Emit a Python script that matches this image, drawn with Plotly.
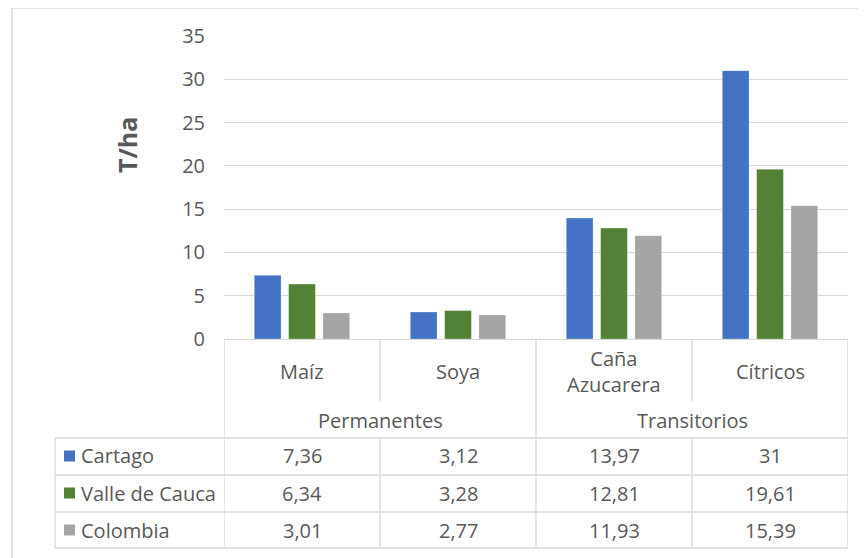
import plotly.graph_objects as go

categories = ["Maíz", "Soya", "Caña<br>Azucarera", "Cítricos"]
groups = ["Permanentes", "Transitorios"]
series_names = ["Cartago", "Valle de Cauca", "Colombia"]
cartago = [7.36, 3.12, 13.97, 31]
valle = [6.34, 3.28, 12.81, 19.61]
colombia = [3.01, 2.77, 11.93, 15.39]
y_ticks = [0, 5, 10, 15, 20, 25, 30, 35]

series_values = [cartago, valle, colombia]
colors = ["#4472C4", "#538135", "#A5A5A5"]
TXT = "#595959"
LINE = "#D9D9D9"
FONT = "Open Sans"
FS = 20

OFF = 8  # page body margin offset
W, H = 866, 558
L, T = 224 - OFF, 36 - OFF
R = W - (848 - OFF)
B = H - (339 - OFF)
PW, PH = W - L - R, H - T - B


def px(x):
    return (x - OFF - L) / PW


def py(y):
    return (H - B - (y - OFF)) / PH


xs = list(range(len(categories)))
fig = go.Figure()
for name, vals, c in zip(series_names, series_values, colors):
    fig.add_trace(go.Bar(x=xs, y=vals, name=name,
                         marker=dict(color=c, line=dict(width=0.8, color="rgba(255,255,255,0.35)")),
                         showlegend=False))

shapes = []
ann = []


def hline(y, x0, x1):
    shapes.append(dict(type="line", xref="paper", yref="paper", x0=px(x0), x1=px(x1), y0=py(y), y1=py(y),
                       line=dict(color=LINE, width=1.3)))


def vline_x(xi, y0, y1):
    shapes.append(dict(type="line", xref="x", yref="paper", x0=xi, x1=xi, y0=py(y0), y1=py(y1),
                       line=dict(color=LINE, width=1.3)))


# outer chart border
shapes.append(dict(type="rect", xref="paper", yref="paper", x0=px(12), x1=px(890), y0=py(8), y1=py(590),
                   line=dict(color=LINE, width=1.5), fillcolor="rgba(0,0,0,0)"))

row_y = [438, 475, 512, 548]
for y in row_y:
    hline(y, 55, 848)
shapes.append(dict(type="line", xref="paper", yref="paper", x0=px(55), x1=px(55), y0=py(438), y1=py(548),
                   line=dict(color=LINE, width=1.3)))
n = len(categories)
vline_x(-0.5, 339, 548)
vline_x(n - 0.5, 339, 548)
vline_x(1.5, 339, 548)
for b in [0.5, 2.5]:
    vline_x(b, 339, 402)
    vline_x(b, 438, 548)

for i, c in enumerate(categories):
    ann.append(dict(x=i, y=py(371), xref="x", yref="paper", text=c, showarrow=False, xanchor="center",
                    font=dict(family=FONT, size=FS, color=TXT), yanchor="middle"))
for g, (a, b) in zip(groups, [(0, 1), (2, 3)]):
    ann.append(dict(x=(a + b) / 2, y=py(420), xref="x", yref="paper", text=g, showarrow=False, xanchor="center",
                    font=dict(family=FONT, size=FS, color=TXT), yanchor="middle"))


def fmt(v):
    return f"{v:g}".replace(".", ",")


text_y = [456, 493, 530]
for r, (name, vals, c) in enumerate(zip(series_names, series_values, colors)):
    yc = text_y[r]
    shapes.append(dict(type="rect", xref="paper", yref="paper", x0=px(64), x1=px(75), y0=py(yc - 5.5),
                       y1=py(yc + 5.5), line=dict(width=0), fillcolor=c))
    ann.append(dict(x=px(79), y=py(yc), xref="paper", yref="paper", text=name, showarrow=False, xanchor="left",
                    yanchor="middle", font=dict(family=FONT, size=FS, color=TXT)))
    for i, v in enumerate(vals):
        ann.append(dict(x=i, y=py(yc), xref="x", yref="paper", text=fmt(v), showarrow=False, yanchor="middle",
                        xanchor="center", font=dict(family=FONT, size=FS, color=TXT)))

ann.append(dict(x=px(127), y=py(145), xref="paper", yref="paper", text="<b>T/ha</b>", showarrow=False,
                xanchor="center", yanchor="middle",
                textangle=-90, font=dict(family=FONT, size=25, color=TXT)))

fig.update_layout(
    width=W, height=H, margin=dict(l=L, r=R, t=T, b=B),
    paper_bgcolor="white", plot_bgcolor="white",
    barmode="group", bargap=0.34, bargroupgap=0.22,
    xaxis=dict(range=[-0.5, n - 0.5], showticklabels=False, showgrid=False, zeroline=False, showline=False,
               ticks=""),
    yaxis=dict(range=[0, 35], tickvals=y_ticks, showgrid=True, gridcolor=LINE, gridwidth=1.3, zeroline=True,
               zerolinecolor=LINE, zerolinewidth=1.3, showline=False, ticks="", ticklabelstandoff=18,
               tickfont=dict(family=FONT, size=FS, color=TXT)),
    shapes=shapes, annotations=ann, font=dict(family=FONT, color=TXT),
)
fig.write_html("out.html")
